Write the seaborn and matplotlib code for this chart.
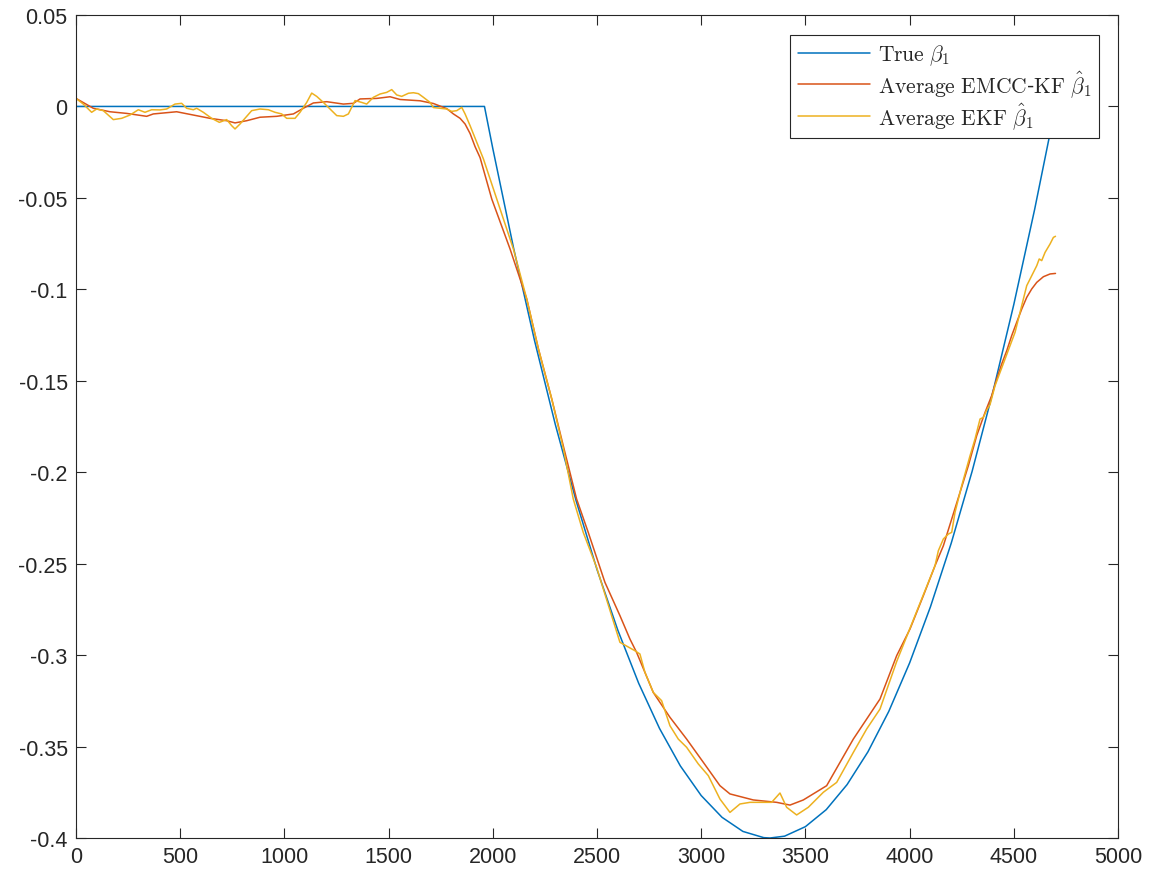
import matplotlib
matplotlib.use("Agg")
import matplotlib.pyplot as plt
import seaborn as sns
import pandas as pd
from matplotlib.ticker import FixedLocator, FixedFormatter

# ---------------- data ----------------
true_t = [0, 1960, 2000, 2100, 2200, 2300, 2400, 2500, 2600, 2700, 2800, 2900,
          3000, 3100, 3200, 3300, 3330, 3400, 3500, 3600, 3700, 3800, 3900,
          4000, 4100, 4200, 4300, 4400, 4500, 4600, 4700]
true_v = [0.0, 0.0, -0.0230, -0.0776, -0.1279, -0.1739, -0.2157, -0.2532, -0.2864,
          -0.3154, -0.3401, -0.3606, -0.3768, -0.3887, -0.3964, -0.3998, -0.4000,
          -0.3990, -0.3938, -0.3845, -0.3708, -0.3529, -0.3308, -0.3043, -0.2736,
          -0.2387, -0.1995, -0.1560, -0.1083, -0.0563, 0.0]

emcc_t = [0, 83, 163, 243, 339, 371, 483, 563, 643, 723, 763, 819, 883, 963, 1043,
          1091, 1139, 1203, 1283, 1331, 1363, 1443, 1507, 1555, 1651, 1715, 1779,
          1811, 1843, 1867, 1891, 1915, 1939, 1995, 2083, 2163, 2219, 2283, 2342,
          2402, 2458, 2538, 2610, 2658, 2690, 2770, 2850, 2930, 3010, 3090, 3138,
          3250, 3362, 3426, 3490, 3602, 3730, 3858, 3938, 4002, 4066, 4122, 4162,
          4202, 4242, 4282, 4322, 4362, 4394, 4418, 4442, 4466, 4490, 4514, 4538,
          4562, 4586, 4610, 4642, 4674, 4700]
emcc_v = [0.0044, -0.0010, -0.0029, -0.0038, -0.0054, -0.0041, -0.0029, -0.0047,
          -0.0065, -0.0078, -0.0090, -0.0078, -0.0059, -0.0054, -0.0041, -0.0010,
          0.0019, 0.0026, 0.0013, 0.0017, 0.0041, 0.0044, 0.0053, 0.0038, 0.0031,
          0.0016, -0.0012, -0.0041, -0.0065, -0.0096, -0.0148, -0.0220, -0.0280,
          -0.0506, -0.0780, -0.1053, -0.1326, -0.1600, -0.1873, -0.2146, -0.2329,
          -0.2602, -0.2784, -0.2912, -0.2985, -0.3204, -0.3340, -0.3459, -0.3586,
          -0.3714, -0.3759, -0.3792, -0.3805, -0.3820, -0.3792, -0.3714, -0.3459,
          -0.3240, -0.3003, -0.2857, -0.2675, -0.2511, -0.2402, -0.2256, -0.2110,
          -0.1964, -0.1800, -0.1673, -0.1581, -0.1490, -0.1408, -0.1336, -0.1253,
          -0.1180, -0.1108, -0.1044, -0.0998, -0.0962, -0.0931, -0.0916, -0.0913]

ekf_t = [0, 35, 75, 99, 131, 179, 219, 259, 299, 331, 363, 403, 435, 475, 507, 531,
         563, 579, 611, 651, 688, 723, 747, 763, 787, 819, 843, 883, 923, 955, 987,
         1011, 1051, 1075, 1107, 1131, 1155, 1187, 1219, 1251, 1283, 1307, 1339,
         1371, 1395, 1427, 1459, 1491, 1515, 1539, 1563, 1595, 1619, 1643, 1667,
         1699, 1715, 1747, 1779, 1803, 1827, 1851, 1867, 1891, 1923, 1955, 2019,
         2099, 2163, 2219, 2283, 2339, 2386, 2434, 2498, 2570, 2610, 2682, 2706,
         2730, 2770, 2810, 2850, 2890, 2930, 2986, 3034, 3090, 3138, 3186, 3234,
         3282, 3338, 3378, 3410, 3458, 3514, 3586, 3650, 3730, 3794, 3858, 3938,
         3994, 4058, 4122, 4138, 4162, 4186, 4202, 4218, 4250, 4290, 4314, 4338,
         4354, 4370, 4386, 4410, 4434, 4458, 4482, 4506, 4530, 4546, 4562, 4586,
         4610, 4622, 4634, 4650, 4674, 4690, 4700]
ekf_v = [0.0044, 0.0013, -0.0032, -0.0014, -0.0023, -0.0072, -0.0065, -0.0047,
         -0.0018, -0.0032, -0.0018, -0.0019, -0.0014, 0.0013, 0.0017, -0.0010,
         -0.0018, -0.0010, -0.0032, -0.0065, -0.0087, -0.0072, -0.0105, -0.0123,
         -0.0096, -0.0054, -0.0023, -0.0014, -0.0018, -0.0032, -0.0041, -0.0065,
         -0.0065, -0.0032, 0.0022, 0.0073, 0.0055, 0.0022, -0.0014, -0.0050,
         -0.0054, -0.0041, 0.0032, 0.0022, 0.0013, 0.0050, 0.0068, 0.0077, 0.0092,
         0.0063, 0.0055, 0.0072, 0.0075, 0.0070, 0.0050, 0.0022, -0.0006, -0.0010,
         -0.0014, -0.0027, -0.0023, -0.0005, -0.0041, -0.0105, -0.0196, -0.0287,
         -0.0506, -0.0780, -0.1053, -0.1326, -0.1600, -0.1873, -0.2146, -0.2329,
         -0.2520, -0.2784, -0.2930, -0.2976, -0.2994, -0.3094, -0.3204, -0.3249,
         -0.3386, -0.3459, -0.3504, -0.3595, -0.3659, -0.3787, -0.3860, -0.3814,
         -0.3805, -0.3805, -0.3805, -0.3754, -0.3832, -0.3874, -0.3832, -0.3750,
         -0.3696, -0.3532, -0.3404, -0.3295, -0.3035, -0.2876, -0.2693, -0.2511,
         -0.2429, -0.2365, -0.2338, -0.2329, -0.2219, -0.2074, -0.1910, -0.1818,
         -0.1709, -0.1700, -0.1660, -0.1630, -0.1527, -0.1454, -0.1381, -0.1308,
         -0.1235, -0.1126, -0.1053, -0.0980, -0.0925, -0.0871, -0.0834, -0.0843,
         -0.0798, -0.0752, -0.0716, -0.0710]

series_labels = [r"$\mathrm{True}\ \beta_1$",
                 r"$\mathrm{Average\ EMCC}$-$\mathrm{KF}\ \hat{\beta}_1$",
                 r"$\mathrm{Average\ EKF}\ \hat{\beta}_1$"]
series_colors = ["#0072BD", "#D95319", "#EDB120"]

x_ticks = [0, 500, 1000, 1500, 2000, 2500, 3000, 3500, 4000, 4500, 5000]
x_ticklabels = ["0", "500", "1000", "1500", "2000", "2500", "3000", "3500",
                "4000", "4500", "5000"]
y_ticks = [-0.4, -0.35, -0.3, -0.25, -0.2, -0.15, -0.1, -0.05, 0, 0.05]
y_ticklabels = ["-0.4", "-0.35", "-0.3", "-0.25", "-0.2", "-0.15", "-0.1",
                "-0.05", "0", "0.05"]

# ---------------- styling ----------------
sns.set_theme(style="white")
plt.rcParams.update({
    "font.family": ["Liberation Sans", "DejaVu Sans"],
    "mathtext.fontset": "cm",
    "axes.edgecolor": "#262626",
    "axes.linewidth": 0.8,
    "xtick.direction": "in",
    "ytick.direction": "in",
    "xtick.top": True,
    "ytick.right": True,
    "xtick.bottom": True,
    "ytick.left": True,
    "xtick.major.size": 7.5,
    "ytick.major.size": 7.5,
    "xtick.major.width": 0.8,
    "ytick.major.width": 0.8,
    "xtick.color": "#262626",
    "ytick.color": "#262626",
    "xtick.labelsize": 15.5,
    "ytick.labelsize": 15.5,
})

fig = plt.figure(figsize=(11.59, 8.79), dpi=100)
ax = fig.add_axes([76 / 1159, 1 - 839 / 879, 1042 / 1159, 823 / 879])

frames = [
    pd.DataFrame({"t": true_t, "v": true_v}),
    pd.DataFrame({"t": emcc_t, "v": emcc_v}),
    pd.DataFrame({"t": ekf_t, "v": ekf_v}),
]
for df, lab, col in zip(frames, series_labels, series_colors):
    sns.lineplot(data=df, x="t", y="v", ax=ax, color=col, linewidth=1.1,
                 label=lab, estimator=None, sort=False)

ax.set_xlim(0, 5000)
ax.set_ylim(-0.4, 0.05)
ax.xaxis.set_major_locator(FixedLocator(x_ticks))
ax.xaxis.set_major_formatter(FixedFormatter(x_ticklabels))
ax.yaxis.set_major_locator(FixedLocator(y_ticks))
ax.yaxis.set_major_formatter(FixedFormatter(y_ticklabels))
ax.tick_params(axis="x", pad=6)
ax.tick_params(axis="y", pad=6)
ax.set_xlabel("")
ax.set_ylabel("")
for sp in ax.spines.values():
    sp.set_visible(True)

leg = ax.legend(loc="upper right", bbox_to_anchor=(0.982, 0.976),
                borderaxespad=0, fancybox=False, framealpha=1,
                edgecolor="#262626", fontsize=15.5, handlelength=3.35,
                handletextpad=0.37, borderpad=0.35, labelspacing=0.05)
leg.get_frame().set_linewidth(0.8)

fig.savefig("out.png", dpi=100)
